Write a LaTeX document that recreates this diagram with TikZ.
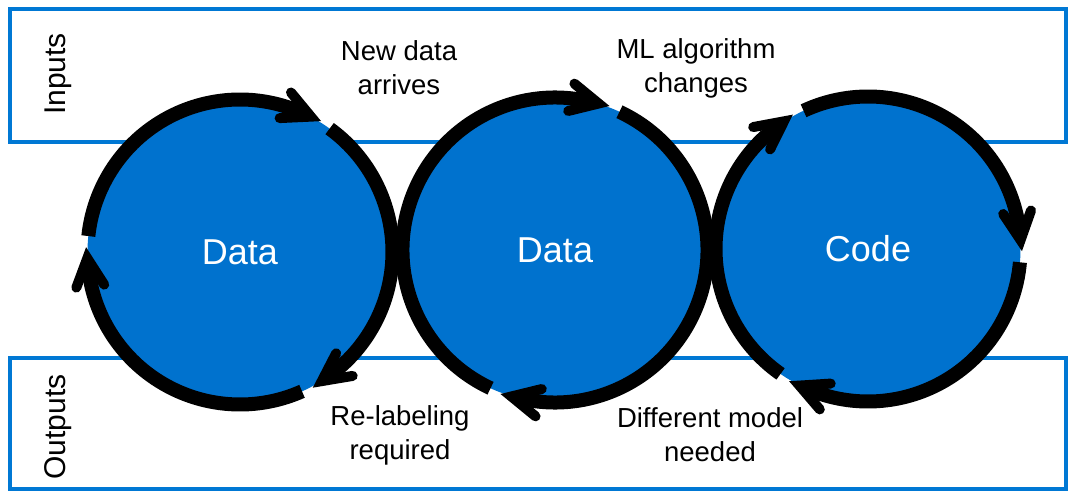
\documentclass[tikz,border=0pt]{standalone}
\usepackage{fontspec}
\setmainfont{Liberation Sans}
\usetikzlibrary{decorations.markings}
\definecolor{cycblue}{RGB}{0,114,206}
\definecolor{bandblue}{RGB}{0,120,212}

\begin{document}
\begin{tikzpicture}[x=1pt,y=1pt,
  band/.style={draw=bandblue,line width=3.5pt},
  disc/.style={circle,fill=cycblue,minimum size=305pt,inner sep=0pt,outer sep=0pt,
    text=white,font=\fontsize{36}{40}\selectfont},
  ring/.style={line width=14pt,postaction={decorate,decoration={markings,
    mark=at position 0.999 with {\draw[line width=10pt,line cap=round,miter limit=4]
      (-18pt,14pt) -- (10pt,0pt) -- (-18pt,-14pt);}}}},
  lbl/.style={align=center,font=\fontsize{27.5}{34}\selectfont},
  side/.style={rotate=90,font=\fontsize{30}{36}\selectfont}]
\useasboundingbox (0,0) rectangle (1071,491);

% input and output bands
\draw[band] (10,349) rectangle (1066,482);
\draw[band] (10,2) rectangle (1066,133);
\node[side] (inputs) at (58,417) {Inputs};
\node[side] (outputs) at (58,64) {Outputs};

% the three discs
\node[disc] (d1) at (240,239) {Data};
\node[disc] (d2) at (555,241) {Data};
\node[disc] (d3) at (868,242) {Code};

% rings, all clockwise
\draw[ring] (d1.174) arc[start angle=174,end angle=66,radius=152.5pt];
\draw[ring] (d1.54) arc[start angle=54,end angle=-54,radius=152.5pt];
\draw[ring] (d1.-66) arc[start angle=-66,end angle=-174,radius=152.5pt];

\draw[ring] (d2.245) arc[start angle=245,end angle=77,radius=152.5pt];
\draw[ring] (d2.65) arc[start angle=65,end angle=-103,radius=152.5pt];

\draw[ring] (d3.235) arc[start angle=235,end angle=127,radius=152.5pt];
\draw[ring] (d3.115) arc[start angle=115,end angle=7,radius=152.5pt];
\draw[ring] (d3.-5) arc[start angle=-5,end angle=-113,radius=152.5pt];

% labels
\node[lbl] (newdata) at (399,423) {New data\\arrives};
\node[lbl] (mlalgo) at (696,423) {ML algorithm\\changes};
\node[lbl] (relabel) at (400,56) {Re-labeling\\required};
\node[lbl] (diffmodel) at (710,56) {Different model\\needed};
\end{tikzpicture}
\end{document}
